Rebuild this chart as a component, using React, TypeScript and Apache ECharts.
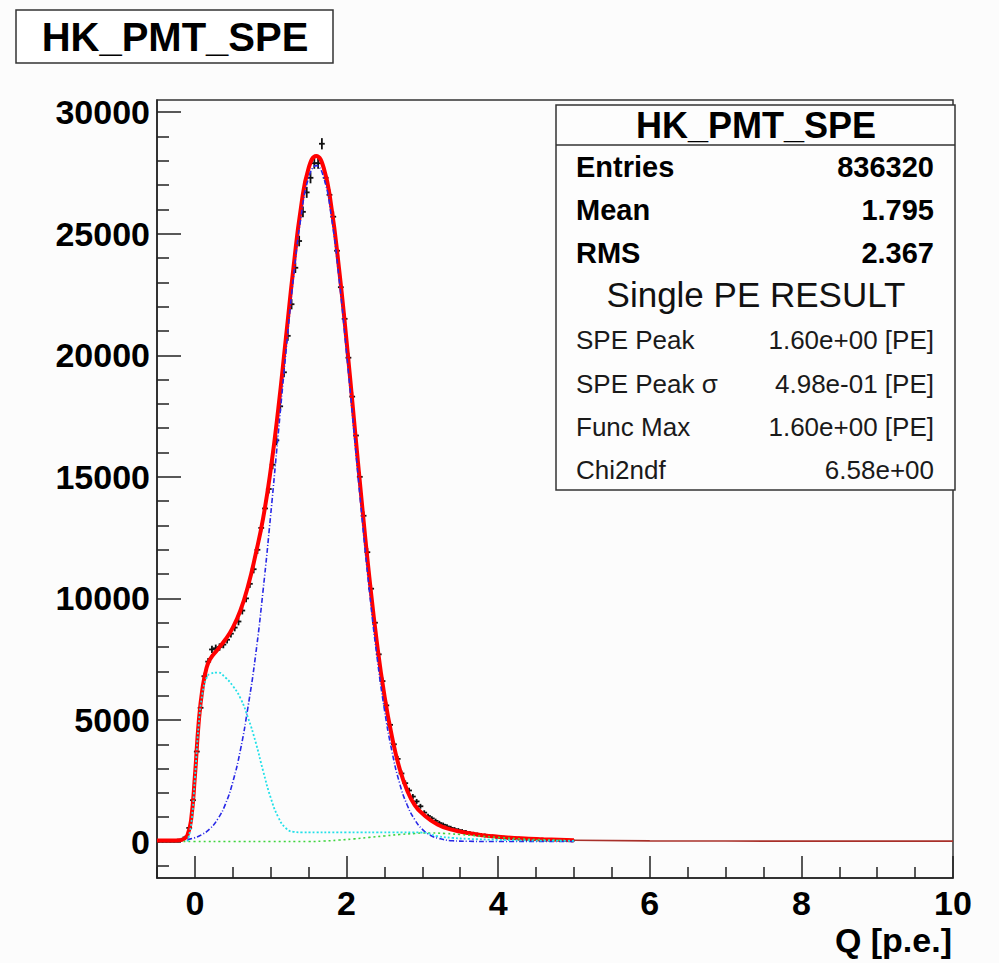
import React, { useEffect, useRef } from "react";
import * as echarts from "echarts";

const TITLE = "HK_PMT_SPE";
const FONT = '"Liberation Sans", Arial, Helvetica, sans-serif';

// axis ticks
const X_TICKS = [0, 2, 4, 6, 8, 10];
const X_MINOR = [-0.5, 0.5, 1, 1.5, 2.5, 3, 3.5, 4.5, 5, 5.5, 6.5, 7, 7.5, 8.5, 9, 9.5];
const Y_TICKS = [0, 5000, 10000, 15000, 20000, 25000, 30000];
const Y_MINOR = [-1000, 1000, 2000, 3000, 4000, 6000, 7000, 8000, 9000, 11000, 12000, 13000, 14000,
  16000, 17000, 18000, 19000, 21000, 22000, 23000, 24000, 26000, 27000, 28000, 29000];

// histogram (bins of width 0.05 starting at -0.5)
const BIN_START = -0.475;
const BIN_WIDTH = 0.05;
const counts = [
  30, 30, 35, 35, 40, 45, 80, 170, 560, 1700,
  3700, 5500, 6800, 7400, 7900, 7950, 8000, 8100, 8300, 8550,
  8800, 9050, 9500, 10000, 10600, 11200, 12000, 12900, 13700, 14500,
  15500, 16500, 17900, 19300, 20800, 22100, 23600, 24700, 25900, 26700,
  27300, 27900, 27900, 28700, 27300, 26600, 25700, 24300, 22800, 21500,
  19900, 18300, 16700, 15000, 13400, 11900, 10400, 9000, 7700, 6600,
  5600, 4800, 4000, 3400, 2800, 2400, 2100, 1850, 1650, 1450,
  1190, 1050, 950, 850, 760, 690, 620, 560, 510, 470,
  430, 390, 350, 320, 290, 270, 250, 230, 210, 190,
  175, 160, 150, 140, 130, 120, 110, 100, 95, 90,
  85, 80, 75, 70, 65, 60, 55, 50, 45, 40,
];

// total fit (red)
const fitX = [-0.5, -0.4, -0.3, -0.2, -0.15, -0.1, -0.05, 0, 0.05, 0.1, 0.15, 0.2, 0.3, 0.4, 0.5, 0.6, 0.7, 0.8, 0.9, 1.0,
  1.1, 1.2, 1.3, 1.4, 1.5, 1.6, 1.7, 1.8, 1.9, 2.0, 2.1, 2.2, 2.3, 2.4, 2.5, 2.6, 2.7, 2.8, 2.9, 3.0,
  3.2, 3.4, 3.6, 3.8, 4.0, 4.3, 4.6, 5.0];
const fitY = [40, 40, 40, 50, 100, 250, 900, 2700, 4900, 6300, 7100, 7500, 7900, 8300, 8800, 9500, 10500, 11800, 13300, 15300,
  17800, 20700, 23600, 26100, 27700, 28200, 27700, 26100, 23600, 20600, 17300, 14000, 10900, 8200, 6000, 4300, 3000, 2100, 1500, 1150,
  700, 480, 350, 260, 200, 130, 90, 50];
const fitTailX = [5.0, 6.0, 7.0, 8.0, 9.0, 10.0];
const fitTailY = [50, 25, 20, 15, 15, 15];

// single PE gaussian (blue)
const speX = [-0.1, 0, 0.1, 0.2, 0.3, 0.4, 0.5, 0.6, 0.7, 0.8, 0.9, 1.0, 1.1, 1.2, 1.3, 1.4, 1.5, 1.6, 1.7, 1.8,
  1.9, 2.0, 2.1, 2.2, 2.3, 2.4, 2.5, 2.6, 2.7, 2.8, 2.9, 3.0, 3.1, 3.2, 3.4, 3.6, 4.0, 5.0];
const speY = [80, 160, 300, 530, 920, 1520, 2450, 3760, 5530, 7650, 10350, 13450, 16800, 20100, 23200, 25700, 27300, 27800, 27300, 25700,
  23200, 20100, 16800, 13450, 10350, 7650, 5430, 3700, 2400, 1500, 900, 500, 270, 140, 30, 10, 0, 0];

// low-charge component (cyan)
const pedX = [-0.1, -0.05, 0, 0.05, 0.1, 0.15, 0.2, 0.3, 0.4, 0.5, 0.6, 0.7, 0.8, 0.9, 1.0, 1.1, 1.2, 1.3, 1.4, 2.0,
  2.6, 3.0, 3.2, 3.4, 3.6, 4.0, 4.5, 5.0];
const pedY = [0, 700, 2600, 4800, 6100, 6700, 6900, 6950, 6750, 6400, 5900, 5100, 4100, 2900, 1800, 1000, 550, 400, 380, 380,
  380, 370, 220, 150, 110, 70, 40, 30];

// two-PE / background component (green)
const bgX = [-0.15, 0, 0.5, 1.0, 1.5, 1.7, 1.9, 2.1, 2.3, 2.5, 2.7, 2.9, 3.0, 3.1, 3.3, 3.5, 3.7, 4.0, 4.3, 4.6, 5.0];
const bgY = [0, 0, 0, 0, 0, 20, 60, 110, 170, 230, 290, 330, 350, 350, 330, 290, 240, 170, 110, 70, 40];

// stats box
const statsHeader = "HK_PMT_SPE";
const statsBold = [["Entries", "836320"], ["Mean", "1.795"], ["RMS", "2.367"]];
const statsSection = "Single PE RESULT";
const statsFit = [["SPE Peak", "1.60e+00 [PE]"], ["SPE Peak σ", "4.98e-01 [PE]"], ["Func Max", "1.60e+00 [PE]"], ["Chi2ndf", "6.58e+00"]];
const X_TITLE = "Q [p.e.]";

const BG = "#fcfcfc";
const AX = "#222";

function pairs(xs: number[], ys: number[]) {
  return xs.map((x, i) => [x, ys[i]]);
}

export default function App() {
  const ref = useRef<HTMLDivElement>(null);
  useEffect(() => {
    if (!ref.current) return;
    const chart = echarts.init(ref.current, null, { renderer: "svg" });

    const boldRowY = [167, 210, 253];
    const fitRowY = [340, 384, 427, 470];
    const graphics: any[] = [
      { type: "rect", z: 100, shape: { x: 16, y: 10, width: 317, height: 53 }, style: { fill: "#fff", stroke: "#333", lineWidth: 1.5 } },
      { type: "text", z: 101, x: 175, y: 37, style: { text: TITLE, font: `bold 40px ${FONT}`, fill: "#000", align: "center", verticalAlign: "middle" } },
      { type: "rect", z: 100, shape: { x: 556, y: 105, width: 399, height: 385 }, style: { fill: "#fdfdfd", stroke: "#333", lineWidth: 1.5 } },
      { type: "line", z: 101, shape: { x1: 556, y1: 145, x2: 955, y2: 145 }, style: { stroke: "#333", lineWidth: 1.5 } },
      { type: "text", z: 101, x: 756, y: 125, style: { text: statsHeader, font: `bold 36px ${FONT}`, fill: "#000", align: "center", verticalAlign: "middle" } },
      { type: "text", z: 101, x: 756, y: 294, style: { text: statsSection, font: `35px ${FONT}`, fill: "#111", align: "center", verticalAlign: "middle" } },
      { type: "text", z: 101, x: 952, y: 940, style: { text: X_TITLE, font: `bold 34px ${FONT}`, fill: "#000", align: "right", verticalAlign: "middle" } },
    ];
    statsBold.forEach((row, i) => {
      graphics.push({ type: "text", z: 101, x: 576, y: boldRowY[i], style: { text: row[0], font: `bold 29px ${FONT}`, fill: "#000", align: "left", verticalAlign: "middle" } });
      graphics.push({ type: "text", z: 101, x: 934, y: boldRowY[i], style: { text: row[1], font: `bold 29px ${FONT}`, fill: "#000", align: "right", verticalAlign: "middle" } });
    });
    statsFit.forEach((row, i) => {
      graphics.push({ type: "text", z: 101, x: 576, y: fitRowY[i], style: { text: row[0], font: `26px ${FONT}`, fill: "#1a1a1a", align: "left", verticalAlign: "middle" } });
      graphics.push({ type: "text", z: 101, x: 934, y: fitRowY[i], style: { text: row[1], font: `26px ${FONT}`, fill: "#1a1a1a", align: "right", verticalAlign: "middle" } });
    });

    const lineBase = { type: "line", showSymbol: false, smooth: 0.5, xAxisIndex: 0, yAxisIndex: 0, silent: true, clip: true };

    const option: any = {
      animation: false,
      backgroundColor: BG,
      grid: { left: 157, right: 46, top: 100, bottom: 85, show: true, borderColor: "#333", borderWidth: 1.5, backgroundColor: "transparent" },
      xAxis: [
        {
          type: "value", min: -0.5, max: 10, position: "bottom",
          axisLine: { show: true, onZero: false, lineStyle: { color: AX, width: 1.5 } },
          axisTick: { show: true, inside: true, length: 22, customValues: X_TICKS, lineStyle: { color: AX, width: 1.5 } },
          axisLabel: { customValues: X_TICKS, color: "#000", fontFamily: FONT, fontWeight: "bold", fontSize: 34, margin: 8, formatter: (v: number) => String(v) },
          splitLine: { show: false },
        },
        {
          type: "value", min: -0.5, max: 10, position: "bottom",
          axisLine: { show: false, onZero: false },
          axisTick: { show: true, inside: true, length: 11, customValues: X_MINOR, lineStyle: { color: AX, width: 1.5 } },
          axisLabel: { show: false },
          splitLine: { show: false },
        },
      ],
      yAxis: [
        {
          type: "value", min: -1500, max: 30500, position: "left",
          axisLine: { show: true, onZero: false, lineStyle: { color: AX, width: 1.5 } },
          axisTick: { show: true, inside: true, length: 24, customValues: Y_TICKS, lineStyle: { color: AX, width: 1.5 } },
          axisLabel: { customValues: Y_TICKS, color: "#000", fontFamily: FONT, fontWeight: "bold", fontSize: 34, margin: 7, formatter: (v: number) => String(v) },
          splitLine: { show: false },
        },
        {
          type: "value", min: -1500, max: 30500, position: "left",
          axisLine: { show: false, onZero: false },
          axisTick: { show: true, inside: true, length: 12, customValues: Y_MINOR, lineStyle: { color: AX, width: 1.5 } },
          axisLabel: { show: false },
          splitLine: { show: false },
        },
      ],
      series: [
        {
          type: "custom", xAxisIndex: 0, yAxisIndex: 0, z: 2, silent: true, clip: true,
          encode: { x: 0, y: 1 },
          data: counts.map((c, i) => [BIN_START + i * BIN_WIDTH, c]),
          renderItem: (params: any, api: any) => {
            const x = api.value(0);
            const y = api.value(1);
            const err = Math.sqrt(Math.max(y, 0));
            const c = api.coord([x, y]);
            const t = api.coord([x, y + err]);
            const b = api.coord([x, y - err]);
            const l = api.coord([x - BIN_WIDTH / 2, y]);
            const r = api.coord([x + BIN_WIDTH / 2, y]);
            return {
              type: "group",
              children: [
                { type: "line", shape: { x1: c[0], y1: t[1] - 1.5, x2: c[0], y2: b[1] + 1.5 }, style: { stroke: "#111", lineWidth: 1.8 } },
                { type: "line", shape: { x1: l[0] - 1, y1: c[1], x2: r[0] + 1, y2: c[1] }, style: { stroke: "#111", lineWidth: 1.8 } },
              ],
            };
          },
        },
        { ...lineBase, name: "fit", z: 3, data: pairs(fitX, fitY), lineStyle: { color: "#ff0000", width: 4 } },
        { ...lineBase, name: "fitTail", z: 3, smooth: false, data: pairs(fitTailX, fitTailY), lineStyle: { color: "#a8302a", width: 1.6 } },
        { ...lineBase, name: "bg", z: 4, data: pairs(bgX, bgY), lineStyle: { color: "#3ed43e", width: 1.6, type: [2, 3] } },
        { ...lineBase, name: "spe", z: 5, data: pairs(speX, speY), lineStyle: { color: "#2828e6", width: 1.6, type: [5, 2, 1, 2] } },
        { ...lineBase, name: "ped", z: 6, data: pairs(pedX, pedY), lineStyle: { color: "#22e0e8", width: 1.8, type: [2, 2] } },
      ],
      graphic: graphics,
    };
    chart.setOption(option);
    return () => chart.dispose();
  }, []);

  return (
    <div
      ref={ref}
      style={{ position: "fixed", left: 0, top: 0, width: 999, height: 963, background: BG }}
    />
  );
}
